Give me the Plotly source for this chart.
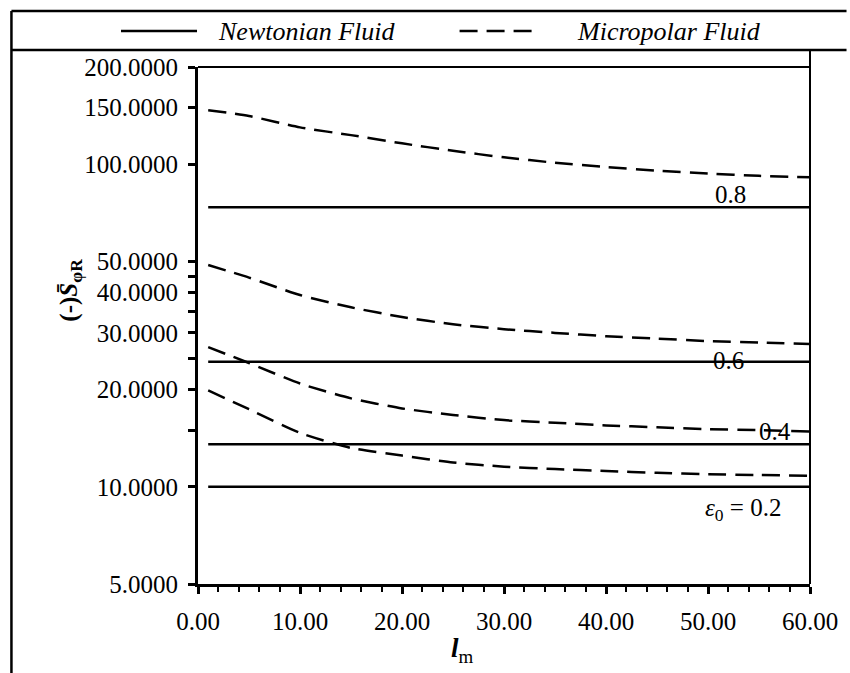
import math
import plotly.graph_objects as go

# Dimensionless gap l_m at which the micropolar curves are tabulated
l_m = [1, 5, 10, 15, 20, 25, 30, 35, 40, 45, 50, 55, 60]

# Micropolar fluid: (-) mean squeeze-film stiffness for each eccentricity ratio
micropolar_02 = [19.9, 17.4, 14.7, 13.2, 12.5, 11.9, 11.55, 11.35, 11.2, 11.05, 10.95, 10.88, 10.82]
micropolar_04 = [27.1, 24.2, 20.9, 18.8, 17.5, 16.7, 16.1, 15.8, 15.5, 15.3, 15.1, 15.0, 14.85]
micropolar_06 = [48.7, 44.5, 39.3, 36.0, 33.6, 31.9, 30.8, 30.0, 29.3, 28.8, 28.3, 28.0, 27.7]
micropolar_08 = [147, 141, 130, 123, 116, 110, 105, 101, 98, 95.5, 93.5, 92, 91]

# Newtonian fluid: independent of l_m
l_m_newtonian = [1, 60]
newtonian_02 = [10.0, 10.0]
newtonian_04 = [13.55, 13.55]
newtonian_06 = [24.4, 24.4]
newtonian_08 = [73.5, 73.5]

# Curve labels: (text, l_m position, value position)
curve_labels = [
    ("0.8", 52.2, 80.5),
    ("0.6", 52.0, 24.7),
    ("0.4", 56.6, 14.8),
    ("<i>ε</i><sub>0</sub> = 0.2", 53.4, 8.5),
]

# Axis ticks
x_ticks = [0, 10, 20, 30, 40, 50, 60]
x_tick_text = ["0.00", "10.00", "20.00", "30.00", "40.00", "50.00", "60.00"]
y_ticks = [5, 10, 20, 30, 40, 50, 100, 150, 200]
y_tick_text = ["5.0000", "10.0000", "20.0000", "30.0000", "40.0000",
               "50.0000", "100.0000", "150.0000", "200.0000"]
y_minor_ticks = [15, 25, 35, 45]

FONT = "Liberation Serif, Times New Roman, serif"
W, H = 850, 673
ML, MR, MT, MB = 198, 32, 67, 89
PW, PH = W - ML - MR, H - MT - MB


def px(x):
    return (x - ML) / PW


def py(y):
    return (H - MB - y) / PH


fig = go.Figure()

line_style = dict(color="black", width=2.5)
dash_style = dict(color="black", width=2.5, dash="18px,9px")

for ys in (newtonian_02, newtonian_04, newtonian_06, newtonian_08):
    fig.add_trace(go.Scatter(x=l_m_newtonian, y=ys, mode="lines",
                             line=line_style, showlegend=False, hoverinfo="skip"))

for ys in (micropolar_02, micropolar_04, micropolar_06, micropolar_08):
    fig.add_trace(go.Scatter(x=l_m, y=ys, mode="lines",
                             line=dict(shape="spline", smoothing=0.6, **dash_style),
                             showlegend=False, hoverinfo="skip"))

annotations = []
for text, xv, yv in curve_labels:
    annotations.append(dict(x=xv, y=math.log10(yv), xref="x", yref="y", text=text,
                            xanchor="center", yanchor="middle", showarrow=False,
                            font=dict(family=FONT, size=25, color="black")))

# Axis titles
annotations.append(dict(x=px(68), y=py(290), xref="paper", yref="paper",
                        xanchor="center", yanchor="middle",
                        text="<b>(-)<i>S̄</i><sub>φR</sub></b>", textangle=-90,
                        showarrow=False, font=dict(family=FONT, size=25, color="black")))
annotations.append(dict(x=px(466), y=py(650), xref="paper", yref="paper",
                        xanchor="center", yanchor="middle",
                        text="<b><i>l</i></b><sub>m</sub>",
                        showarrow=False, font=dict(family=FONT, size=27, color="black")))

# Legend text
annotations.append(dict(x=px(216), y=py(31), xref="paper", yref="paper",
                        xanchor="left", yanchor="middle",
                        text="<i>Newtonian Fluid</i>", showarrow=False,
                        font=dict(family=FONT, size=26, color="black")))
annotations.append(dict(x=px(580), y=py(31), xref="paper", yref="paper",
                        xanchor="left", yanchor="middle",
                        text="<i>Micropolar Fluid</i>", showarrow=False,
                        font=dict(family=FONT, size=26, color="black")))

shapes = [
    # outer frame and legend box
    dict(type="line", xref="paper", yref="paper", x0=px(9), x1=px(W + 5), y0=py(11), y1=py(11),
         line=dict(color="black", width=2.5)),
    dict(type="line", xref="paper", yref="paper", x0=px(9), x1=px(W + 5), y0=py(50), y1=py(50),
         line=dict(color="black", width=2.5)),
    dict(type="line", xref="paper", yref="paper", x0=px(9), x1=px(9), y0=py(11), y1=py(H + 5),
         line=dict(color="black", width=2.5)),
    # plot frame top and right edges
    dict(type="line", xref="paper", yref="paper", x0=0, x1=1, y0=1, y1=1,
         line=dict(color="black", width=2)),
    dict(type="line", xref="paper", yref="paper", x0=1, x1=1, y0=0, y1=py(50),
         line=dict(color="black", width=2)),
    # legend samples
    dict(type="line", xref="paper", yref="paper", x0=px(120), x1=px(197), y0=py(31), y1=py(31),
         line=dict(color="black", width=2.5)),
    dict(type="line", xref="paper", yref="paper", x0=px(463), x1=px(540), y0=py(31), y1=py(31),
         line=dict(color="black", width=2.5, dash="18px,9px")),
]

fig.update_layout(
    width=W, height=H,
    margin=dict(l=ML, r=MR, t=MT, b=MB, pad=0),
    paper_bgcolor="white", plot_bgcolor="white",
    showlegend=False,
    annotations=annotations,
    shapes=shapes,
    font=dict(family=FONT, color="black"),
)

fig.update_xaxes(
    range=[0, 60], tickvals=x_ticks, ticktext=x_tick_text,
    showgrid=False, zeroline=False, showline=True, linecolor="black", linewidth=3,
    ticks="outside", ticklen=7, tickwidth=2.5, tickcolor="black",
    ticklabelstandoff=6,
    tickfont=dict(family=FONT, size=25, color="black"),
    minor=dict(dtick=2, ticks="outside", ticklen=5, tickwidth=2, tickcolor="black", showgrid=False),
)

fig.update_yaxes(
    type="log", range=[math.log10(5), math.log10(200)],
    tickvals=y_ticks, ticktext=y_tick_text,
    showgrid=False, zeroline=False, showline=True, linecolor="black", linewidth=3,
    ticks="outside", ticklen=7, tickwidth=2.5, tickcolor="black",
    ticklabelstandoff=5,
    tickfont=dict(family=FONT, size=25, color="black"),
    minor=dict(tickvals=y_minor_ticks, ticks="outside", ticklen=7, tickwidth=2.5,
               tickcolor="black", showgrid=False),
)

fig.write_html("out.html")
